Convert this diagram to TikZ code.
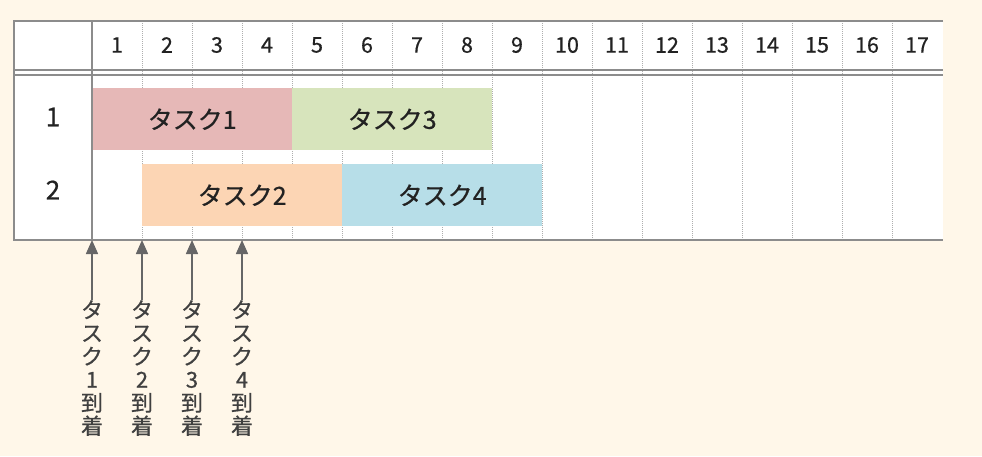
\documentclass[tikz,border=0pt]{standalone}
\usepackage{fontspec}
\setmainfont{Noto Sans CJK JP}[FakeBold=0.6]
\usetikzlibrary{arrows.meta, positioning, calc}
\definecolor{paper}{HTML}{FFF7E9}
\definecolor{gridline}{HTML}{8C8C8C}
\definecolor{inkgray}{HTML}{222222}
\definecolor{taskpink}{HTML}{E6B8B7}
\definecolor{taskgreen}{HTML}{D7E4BC}
\definecolor{taskpeach}{HTML}{FCD5B4}
\definecolor{taskblue}{HTML}{B7DEE8}
\tikzset{every node/.style={text=inkgray}}

\begin{document}
\begin{tikzpicture}[x=1pt, y=-1pt,
    taskbar/.style={minimum width=200pt, minimum height=62pt, inner sep=0pt, anchor=north west, font=\fontsize{25}{27}\selectfont},
    colnum/.style={font=\fontsize{21.5}{23}\selectfont},
    rowlbl/.style={font=\fontsize{26}{28}\selectfont},
    arrival/.style={align=center, anchor=north, inner sep=0pt, text=black!75, font=\fontsize{22}{23.2}\selectfont},
    arr/.style={-{Triangle[length=14pt, width=12pt]}, draw=black!60, line width=1.6pt},
    rule/.style={draw=gridline, line width=1.5pt}]
  \fill[paper] (0,0) rectangle (982,456);
  \fill[white] (14,21) rectangle (943,240);
  % day columns
  \foreach \i in {1,...,16}
    \draw[gridline!70, densely dotted, line width=1pt] ({92+50*\i},21) -- ({92+50*\i},240);
  \foreach \i in {1,...,17}
    \node[colnum] (c\i) at ({67+50*\i},45) {\i};
  % rows
  \node[rowlbl] (r1) at (53,117) {1};
  \node[rowlbl] (r2) at (53,190) {2};
  \node[taskbar, fill=taskpink] (t1) at (92,88) {タスク1};
  \node[taskbar, fill=taskgreen] (t3) at (292,88) {タスク3};
  \node[taskbar, fill=taskpeach] (t2) at (142,164) {タスク2};
  \node[taskbar, fill=taskblue] (t4) at (342,164) {タスク4};
  % frame
  \draw[rule] (943,21) -- (14,21) -- (14,240) -- (943,240);
  \draw[rule] (14,70) -- (943,70);
  \draw[rule] (14,75) -- (943,75);
  \draw[rule] (92,21) -- (92,240);
  % arrivals
  \foreach \i in {1,...,4} {
    \coordinate (a\i) at ({42+50*\i},240);
    \node[arrival] (l\i) at ({42+50*\i},300) {タ\\ス\\ク\\\i\\到\\着};
    \draw[arr] (l\i) -- (a\i);
  }
\end{tikzpicture}
\end{document}
